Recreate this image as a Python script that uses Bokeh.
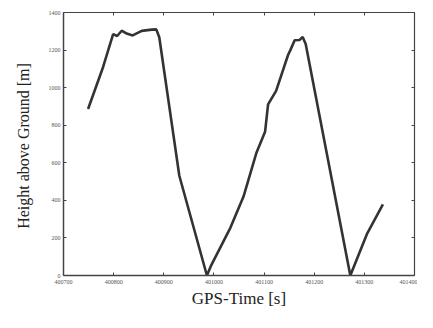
from bokeh.plotting import figure
from bokeh.models import FixedTicker, Range1d, BasicTickFormatter, LinearAxis, CustomJSTickFormatter
from bokeh.embed import file_html
from bokeh.resources import INLINE

# GPS time [s] and height above ground [m]
gps_time = [400749, 400779, 400799, 400807, 400816, 400826, 400838, 400856,
            400876, 400885, 400891, 400931, 400986, 400994, 401033, 401059,
            401085, 401102, 401108, 401124, 401148, 401152, 401161, 401171,
            401177, 401183, 401272, 401305, 401337]
height = [886, 1110, 1285, 1275, 1303, 1288, 1278, 1302,
          1309, 1310, 1268, 531, 0, 51, 255, 420,
          655, 765, 911, 983, 1175, 1197, 1252, 1254,
          1270, 1232, 0, 220, 378]

x_ticks = [400700, 400800, 400900, 401000, 401100, 401200, 401300, 401400]
y_ticks = [0, 200, 400, 600, 800, 1000, 1200, 1400]

p = figure(width=417, height=312, output_backend="svg", toolbar_location=None,
           x_range=Range1d(400700, 401400), y_range=Range1d(0, 1400),
           min_border_left=63, min_border_right=3, min_border_top=12,
           min_border_bottom=37)
p.outline_line_color = None
p.grid.visible = False
p.background_fill_color = "white"

p.line(gps_time, height, line_color="#333333", line_width=2.6)

for ax in (p.xaxis[0], p.yaxis[0]):
    ax.major_tick_in = 3
    ax.major_tick_out = 0
    ax.minor_tick_line_color = None
    ax.axis_line_color = "#444444"
    ax.axis_line_width = 1.5
    ax.major_tick_line_color = "#444444"
    ax.major_label_text_font = "Liberation Serif"
    ax.major_label_text_font_size = "6px"
    ax.major_label_text_color = "#555555"
    ax.axis_label_text_font = "Liberation Serif"
    ax.axis_label_text_font_style = "normal"
    ax.axis_label_text_color = "#222222"

p.xaxis[0].ticker = FixedTicker(ticks=x_ticks)
p.xaxis[0].formatter = BasicTickFormatter(use_scientific=False)
p.yaxis[0].ticker = FixedTicker(ticks=y_ticks)
p.xaxis[0].axis_label = "GPS-Time [s]"
p.xaxis[0].axis_label_text_font_size = "17px"
p.xaxis[0].axis_label_standoff = 2
p.xaxis[0].major_label_standoff = 4
p.yaxis[0].axis_label = "Height above Ground  [m]"
p.yaxis[0].axis_label_text_font_size = "16px"
p.yaxis[0].axis_label_standoff = 14
p.yaxis[0].major_label_standoff = 3

blank = CustomJSTickFormatter(code="return ''")
top = LinearAxis(ticker=FixedTicker(ticks=x_ticks), formatter=blank,
                 major_tick_in=3, major_tick_out=0, minor_tick_line_color=None,
                 axis_line_color="#444444", axis_line_width=1.2,
                 major_tick_line_color="#444444", major_label_standoff=0)
right = LinearAxis(ticker=FixedTicker(ticks=y_ticks), formatter=blank,
                   major_tick_in=3, major_tick_out=0, minor_tick_line_color=None,
                   axis_line_color="#444444", axis_line_width=1.2,
                   major_tick_line_color="#444444", major_label_standoff=0)
p.add_layout(top, "above")
p.add_layout(right, "right")

open("out.html", "w").write(file_html(p, INLINE))
